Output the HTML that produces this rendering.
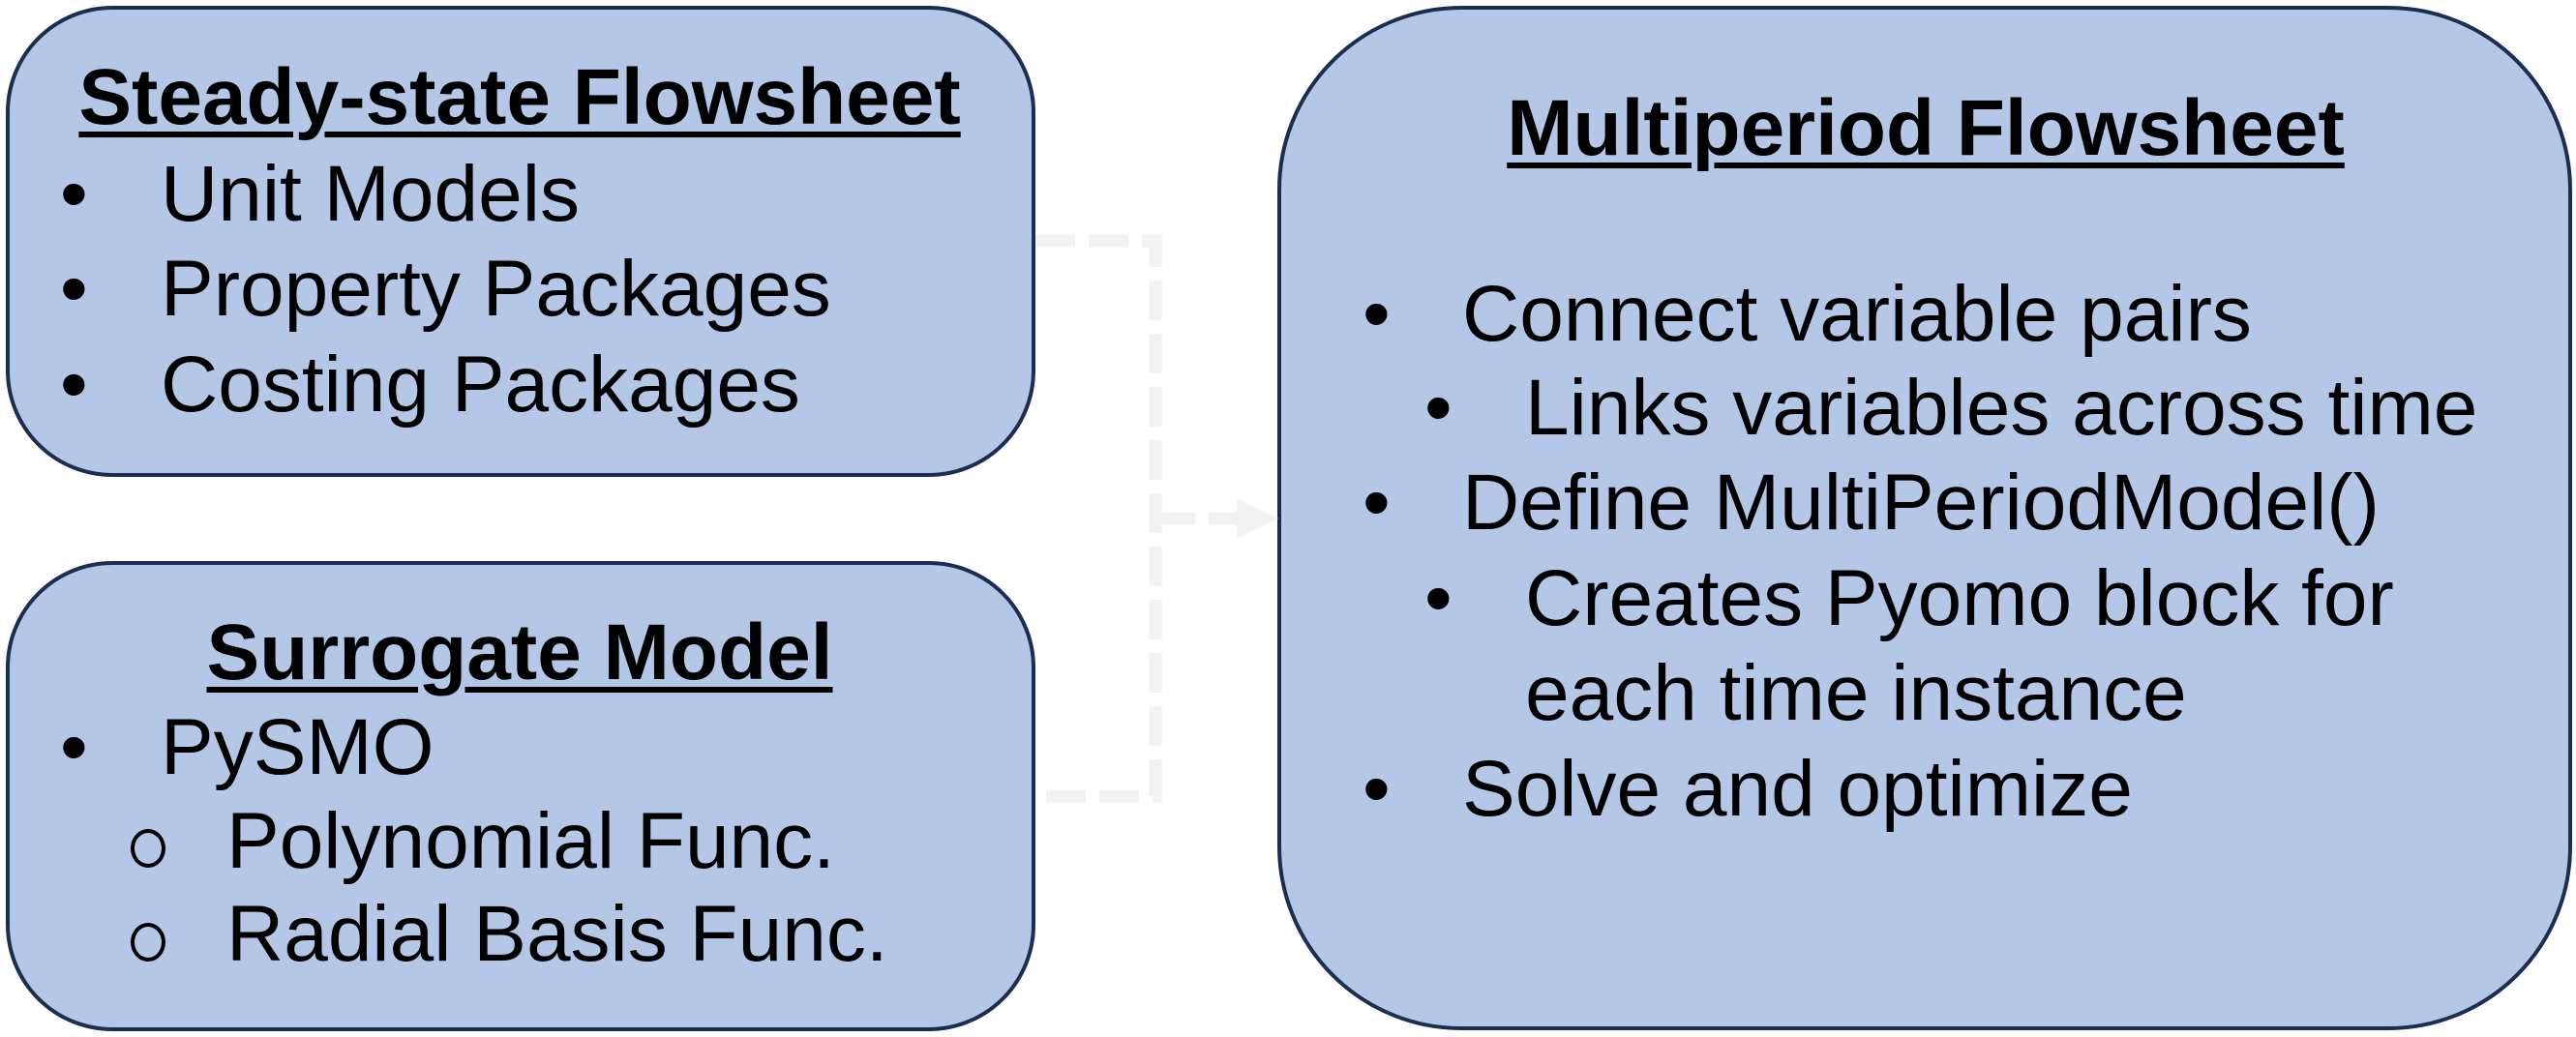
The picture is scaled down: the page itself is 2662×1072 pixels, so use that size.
<!DOCTYPE html>
<html><head><meta charset="utf-8"><style>
html,body{margin:0;padding:0;background:#fff;}
body{width:2662px;height:1072px;position:relative;overflow:hidden;font-family:"Liberation Sans",Arial,sans-serif;}
.box{position:absolute;background:#b4c7e7;border:4px solid #1b2d50;box-sizing:border-box;}
.t{position:absolute;font-size:82px;line-height:1;white-space:nowrap;color:#000;}
.b{font-weight:bold;text-decoration:underline;text-decoration-thickness:6px;text-underline-offset:8px;}
.o{position:absolute;width:36px;height:40px;border:4px solid #000;border-radius:50%;box-sizing:border-box;}
</style></head><body>
<div class="box" style="left:6px;top:6px;width:1064px;height:487px;border-radius:110px;"></div>
<div class="box" style="left:6px;top:580px;width:1064px;height:486px;border-radius:110px;"></div>
<div class="box" style="left:1320px;top:6px;width:1338px;height:1059px;border-radius:190px;"></div>
<svg style="position:absolute;left:0;top:0" width="2662" height="1072">
<g stroke="#f2f2f2" stroke-width="13" fill="none" stroke-dasharray="41 14">
<path d="M1070 249 H1194 V823 H1070"/>
<path d="M1194 536 H1278" />
</g>
<polygon points="1278,515 1321,536 1278,557" fill="#f2f2f2"/>
</svg>
<div class="t b" style="left:537px;top:60px;transform:translateX(-50%)">Steady-state Flowsheet</div>
<div class="t" style="left:62px;top:160px">•</div><div class="t" style="left:166px;top:160px">Unit Models</div>
<div class="t" style="left:62px;top:258px">•</div><div class="t" style="left:166px;top:258px">Property Packages</div>
<div class="t" style="left:62px;top:357px">•</div><div class="t" style="left:166px;top:357px">Costing Packages</div>
<div class="t b" style="left:537px;top:634px;transform:translateX(-50%)">Surrogate Model</div>
<div class="t" style="left:62px;top:732px">•</div><div class="t" style="left:166px;top:732px">PySMO</div>
<div class="o" style="left:135px;top:857px"></div><div class="t" style="left:234px;top:829px">Polynomial Func.</div>
<div class="o" style="left:135px;top:954px"></div><div class="t" style="left:234px;top:925px">Radial Basis Func.</div>
<div class="t b" style="left:1990px;top:92px;transform:translateX(-50%)">Multiperiod Flowsheet</div>
<div class="t" style="left:1408px;top:284px">•</div><div class="t" style="left:1511px;top:284px">Connect variable pairs</div>
<div class="t" style="left:1472px;top:381px">•</div><div class="t" style="left:1576px;top:381px">Links variables across time</div>
<div class="t" style="left:1408px;top:479px">•</div><div class="t" style="left:1511px;top:479px">Define MultiPeriodModel()</div>
<div class="t" style="left:1472px;top:578px">•</div><div class="t" style="left:1576px;top:578px">Creates Pyomo block for</div>
<div class="t" style="left:1576px;top:676px">each time instance</div>
<div class="t" style="left:1408px;top:775px">•</div><div class="t" style="left:1511px;top:775px">Solve and optimize</div>
</body></html>
